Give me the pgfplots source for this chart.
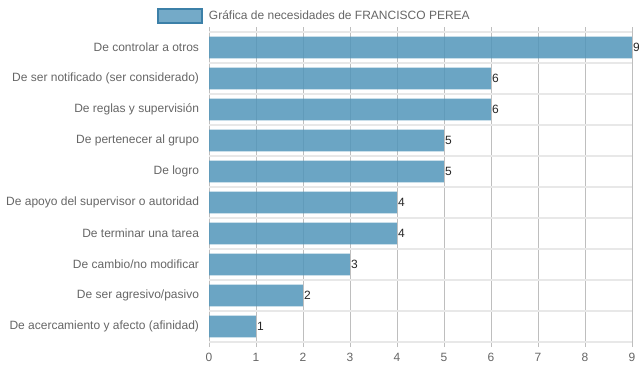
\documentclass[border=0pt]{standalone}
\usepackage{pgfplots}
\pgfplotsset{compat=1.18}
\usepackage{fontspec}
\setmainfont{Liberation Sans}
\definecolor{barc}{RGB}{81,149,186}
\definecolor{legb}{RGB}{60,128,168}
\definecolor{txt}{RGB}{102,102,102}
\definecolor{vgrid}{RGB}{190,190,190}
\definecolor{hgrid}{RGB}{232,232,232}
\begin{document}
\begin{tikzpicture}
\useasboundingbox (0,0) rectangle (639bp,372bp);
\begin{axis}[
  at={(209bp,30bp)}, anchor=south west,
  scale only axis, width=423bp, height=310bp,
  /pgf/number format/assume math mode=true,
  xbar, bar width=0.7, bar shift=0pt,
  xmin=0, xmax=9, ymin=-0.5, ymax=9.5, y dir=reverse,
  xtick={0,...,9}, ytick={0,...,9},
  yticklabels={De controlar a otros, De ser notificado (ser considerado), De reglas y supervisión, De pertenecer al grupo, De logro, De apoyo del supervisor o autoridad, De terminar una tarea, De cambio/no modificar, De ser agresivo/pasivo, De acercamiento y afecto (afinidad)},
  axis line style={draw=none},
  tick align=outside,
  major tick length=5bp,
  xtick style={draw=vgrid, line width=0.8bp},
  ytick style={draw=none},
  xmajorgrids,
  major x grid style={draw=vgrid, line width=0.8bp},
  extra y ticks={-0.5,0.5,1.5,2.5,3.5,4.5,5.5,6.5,7.5,8.5,9.5},
  extra y tick labels={},
  extra y tick style={grid=major, major tick length=12bp, tick style={draw=hgrid, line width=1.2bp}, major grid style={draw=hgrid, line width=1.2bp}},
  ticklabel style={font=\fontsize{12bp}{14bp}\selectfont, text=txt},
  yticklabel style={xshift=-1.5bp},
  xticklabel style={yshift=-2.5bp},
  nodes near coords,
  every node near coord/.append style={font=\fontsize{12bp}{14bp}\selectfont, text=black!85, anchor=west, inner sep=1bp, fill opacity=1, text opacity=1},
  legend style={at={(0.249,1.052)}, anchor=center, draw=none, fill=none, font=\fontsize{12bp}{14bp}\selectfont, text=txt, /tikz/every odd column/.append style={column sep=4bp}},
  legend image code/.code={\draw[fill=barc, draw=legb, line width=2bp, fill opacity=0.8] (0bp,-7bp) rectangle (44bp,7bp);},
]
\addplot[fill=barc, fill opacity=0.85, draw=none] table[x=v, y=c] {
c v
0 9
1 6
2 6
3 5
4 5
5 4
6 4
7 3
8 2
9 1
};
\addlegendentry{Gráfica de necesidades de FRANCISCO PEREA}
\end{axis}
\end{tikzpicture}
\end{document}
